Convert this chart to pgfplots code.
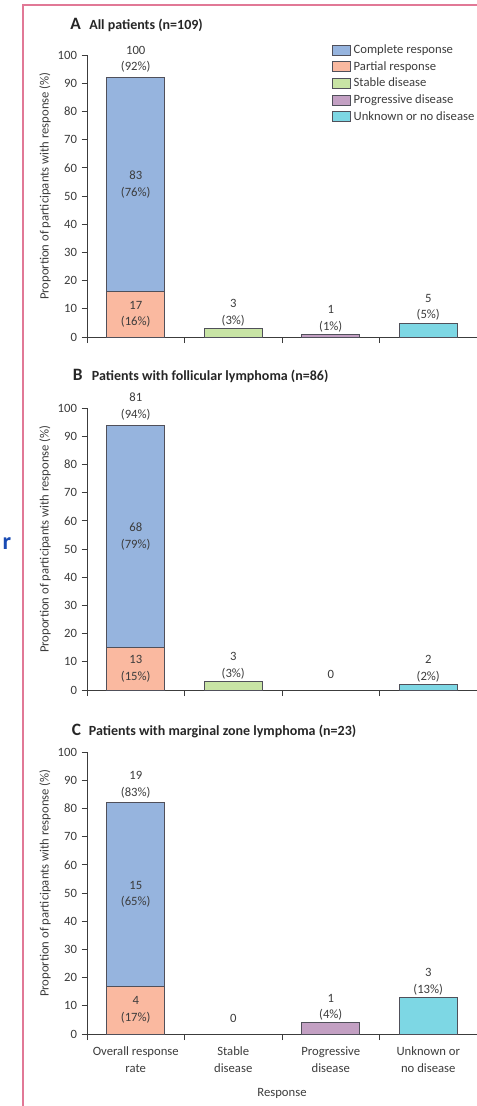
\documentclass[border=0pt]{standalone}
\usepackage{fontspec}
\setmainfont{Carlito}
\usepackage{pgfplots}
\pgfplotsset{compat=1.18}
\definecolor{cblue}{RGB}{150,180,222}
\definecolor{corange}{RGB}{250,185,160}
\definecolor{cgreen}{RGB}{200,228,165}
\definecolor{cpurple}{RGB}{195,160,195}
\definecolor{ccyan}{RGB}{125,215,228}
\definecolor{edge}{RGB}{80,80,90}
\definecolor{axcol}{RGB}{60,60,60}
\definecolor{txt}{RGB}{60,60,60}
\definecolor{framepink}{RGB}{225,120,150}
\definecolor{rblue}{RGB}{25,75,180}
\newcommand{\fs}{\fontsize{9.5}{12.5}\selectfont}
\tikzset{lab/.style={align=center, font=\fs, text=txt, inner sep=1.5pt}}
\pgfplotsset{
  panel/.style={
    scale only axis, width=292.5pt, height=211.5pt,
    xmin=-0.5, xmax=3.5, ymin=0, ymax=100,
    axis x line*=bottom, axis y line*=left,
    axis line style={draw=axcol, line width=0.75pt, -},
    ytick={0,10,...,100},
    xtick={0,1,2,3}, xticklabels={},
    major x tick style={draw=none},
    minor xtick={-0.5,0.5,1.5,2.5,3.5},
    tick align=outside,
    major tick length=4pt, minor tick length=4.5pt,
    every tick/.style={draw=axcol, line width=0.75pt},
    /pgf/number format/assume math mode=true,
    tick label style={font=\fs, text=txt},
    ylabel={Proportion of participants with response (\%)},
    ylabel style={at={(axis description cs:0,0.535)}, anchor=center, yshift=31.5pt, font=\fs, text=txt},
    clip=false,
    title style={at={(axis description cs:0,1)}, anchor=west, inner sep=0pt, text=black!85},
  },
  bar/.style={ybar, bar width=43.5pt, bar shift=0pt, draw=edge, line width=0.6pt, forget plot},
}
\begin{document}
\begin{tikzpicture}
\useasboundingbox (0,0) rectangle (357.75pt,-829.5pt);
\draw[framepink, line width=1.5pt] (16.9pt,-829.5pt) -- (16.9pt,-3.75pt) -- (357.75pt,-3.75pt);
\node[text=rblue, font=\fontsize{18}{18}\selectfont\bfseries, inner sep=0pt] at (5.2pt,-408pt) {r};

% Panel A
\begin{axis}[panel, at={(65.25pt,-252.75pt)}, anchor=south west,
  title={\makebox[14.25pt][l]{\fontsize{13}{13}\selectfont\bfseries A}\fontsize{10.5}{12}\selectfont\bfseries All patients (n=109)},
  title style={xshift=-12.75pt, yshift=16.5pt},
  legend style={draw=none, fill=none, at={(axis description cs:0.628,1.039)}, anchor=north west,
    font=\fs, text=txt, inner sep=0pt, row sep=3.45pt, column sep=2pt,
    nodes={inner sep=0pt, text height=7pt, text depth=2pt}},
  legend cell align=left,
  legend image code/.code={\draw[#1, line width=0.6pt] (0pt,-3.75pt) rectangle (13.5pt,3.75pt);},
]
\addlegendimage{fill=cblue, draw=edge}
\addlegendimage{fill=corange, draw=edge}
\addlegendimage{fill=cgreen, draw=edge}
\addlegendimage{fill=cpurple, draw=edge}
\addlegendimage{fill=ccyan, draw=edge}
\legend{Complete response, Partial response, Stable disease, Progressive disease, Unknown or no disease}
\addplot[bar, fill=cblue] coordinates {(0,92)};
\addplot[bar, fill=corange] coordinates {(0,16)};
\addplot[bar, fill=cgreen] coordinates {(1,3)};
\addplot[bar, fill=cpurple] coordinates {(2,1)};
\addplot[bar, fill=ccyan] coordinates {(3,5)};
\node[lab, anchor=south, yshift=2pt] at (axis cs:0,92) {100\\(92\%)};
\node[lab] at (axis cs:0,54) {83\\(76\%)};
\node[lab] at (axis cs:0,8) {17\\(16\%)};
\node[lab, anchor=south] at (axis cs:1,3) {3\\(3\%)};
\node[lab, anchor=south] at (axis cs:2,1) {1\\(1\%)};
\node[lab, anchor=south] at (axis cs:3,5) {5\\(5\%)};
\end{axis}

% Panel B
\begin{axis}[panel, at={(65.25pt,-517.5pt)}, anchor=south west,
  title={\makebox[14.25pt][l]{\fontsize{13}{13}\selectfont\bfseries B}\fontsize{10.5}{12}\selectfont\bfseries Patients with follicular lymphoma (n=86)},
  title style={xshift=-10.75pt, yshift=18pt},
]
\addplot[bar, fill=cblue] coordinates {(0,94)};
\addplot[bar, fill=corange] coordinates {(0,15)};
\addplot[bar, fill=cgreen] coordinates {(1,3)};
\addplot[bar, fill=ccyan] coordinates {(3,2)};
\node[lab, anchor=south, yshift=2pt] at (axis cs:0,94) {81\\(94\%)};
\node[lab] at (axis cs:0,54.5) {68\\(79\%)};
\node[lab] at (axis cs:0,7.5) {13\\(15\%)};
\node[lab, anchor=south] at (axis cs:1,3) {3\\(3\%)};
\node[lab, anchor=south, yshift=7pt] at (axis cs:2,0) {0};
\node[lab, anchor=south] at (axis cs:3,2) {2\\(2\%)};
\end{axis}

% Panel C
\begin{axis}[panel, at={(65.25pt,-775.5pt)}, anchor=south west,
  title={\makebox[12.75pt][l]{\fontsize{13}{13}\selectfont\bfseries C}\fontsize{10.5}{12}\selectfont\bfseries Patients with marginal zone lymphoma (n=23)},
  title style={xshift=-11.5pt, yshift=9.75pt},
  xticklabels={{Overall response\\rate},{Stable\\disease},{Progressive\\disease},{Unknown or\\no disease}},
  xticklabel style={align=center, font=\fs, text=txt, yshift=-2pt},
  xlabel={Response},
  xlabel style={at={(axis description cs:0.5,0)}, anchor=center, yshift=-44.25pt, font=\fs, text=txt},
]
\addplot[bar, fill=cblue] coordinates {(0,82)};
\addplot[bar, fill=corange] coordinates {(0,17)};
\addplot[bar, fill=cpurple] coordinates {(2,4)};
\addplot[bar, fill=ccyan] coordinates {(3,13)};
\node[lab, anchor=south, yshift=2pt] at (axis cs:0,82) {19\\(83\%)};
\node[lab] at (axis cs:0,49.5) {15\\(65\%)};
\node[lab] at (axis cs:0,8.5) {4\\(17\%)};
\node[lab, anchor=south, yshift=7pt] at (axis cs:1,0) {0};
\node[lab, anchor=south] at (axis cs:2,4) {1\\(4\%)};
\node[lab, anchor=south] at (axis cs:3,13) {3\\(13\%)};
\end{axis}
\end{tikzpicture}
\end{document}
